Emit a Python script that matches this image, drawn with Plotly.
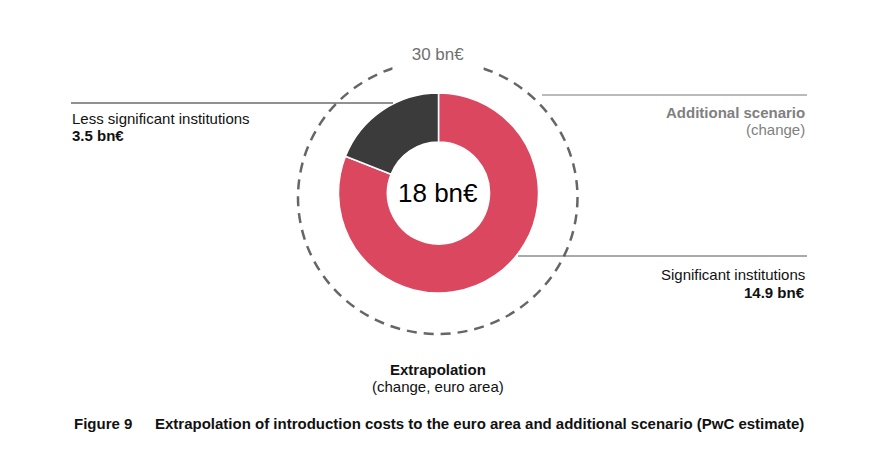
import plotly.graph_objects as go

W, H = 871, 454

segments = ["Significant institutions", "Less significant institutions"]
values = [14.9, 3.5]
colors = ["#DC4760", "#3B3B3B"]

total_label = "18 bn€"
scenario_label = "30 bn€"

def px(x):
    return x / W

def py(y):
    return 1 - y / H

FONT = "Liberation Sans, Arial, sans-serif"

fig = go.Figure()
fig.add_trace(go.Pie(
    labels=segments, values=values,
    marker=dict(colors=colors, line=dict(color="white", width=1.5)),
    hole=0.51, sort=False, direction="clockwise", rotation=0,
    textinfo="none", hoverinfo="label+value", showlegend=False,
    domain=dict(x=[px(338.5), px(538.5)], y=[py(293), py(93)]),
))

shapes = [
    dict(type="circle", xref="paper", yref="paper",
         x0=px(298), x1=px(577.5), y0=py(334), y1=py(61),
         line=dict(color="#666666", width=2.5, dash="10px,7px")),
    dict(type="line", xref="paper", yref="paper",
         x0=px(71), x1=px(393), y0=py(103), y1=py(103),
         line=dict(color="#222222", width=1)),
    dict(type="line", xref="paper", yref="paper",
         x0=px(542), x1=px(807), y0=py(95), y1=py(95),
         line=dict(color="#777777", width=1)),
    dict(type="line", xref="paper", yref="paper",
         x0=px(518), x1=px(807), y0=py(256), y1=py(256),
         line=dict(color="#555555", width=1)),
]

def ann(text, x, y, size=15, color="#111111", xanchor="left", bold=False, **kw):
    t = f"<b>{text}</b>" if bold else text
    return dict(text=t, x=px(x), y=py(y), xref="paper", yref="paper",
                xanchor=xanchor, yanchor="middle", showarrow=False,
                font=dict(family=FONT, size=size, color=color), **kw)

annotations = [
    ann(scenario_label, 438, 54, size=17, color="#707070", xanchor="center",
        bgcolor="white", width=88, height=30),
    ann(total_label, 438, 193, size=26, color="#000000", xanchor="center"),
    ann("Less significant institutions", 70, 118),
    ann("3.5 bn€", 70, 135, bold=True),
    ann("Additional scenario", 807, 112, color="#808080", xanchor="right", bold=True),
    ann("(change)", 807, 129, color="#808080", xanchor="right"),
    ann("Significant institutions", 807, 274, xanchor="right"),
    ann("14.9 bn€", 807, 292, xanchor="right", bold=True),
    ann("Extrapolation", 438, 369, xanchor="center", bold=True),
    ann("(change, euro area)", 438, 386, xanchor="center"),
    ann("Figure 9", 72, 423, size=15, bold=True),
    ann("Extrapolation of introduction costs to the euro area and additional scenario (PwC estimate)",
        153, 423, size=15, bold=True),
]

fig.update_layout(
    width=W, height=H,
    margin=dict(l=0, r=0, t=0, b=0),
    paper_bgcolor="white", plot_bgcolor="white",
    shapes=shapes, annotations=annotations,
    font=dict(family=FONT),
)

fig.write_html("out.html",
               config={"displayModeBar": False},
               post_script="document.body.style.margin='0';document.body.style.overflow='hidden';")
